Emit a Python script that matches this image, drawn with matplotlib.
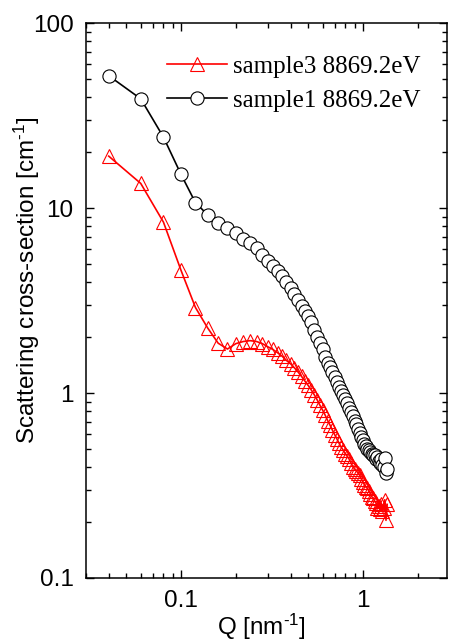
import matplotlib
matplotlib.use("Agg")
import matplotlib.pyplot as plt
from matplotlib.ticker import FixedLocator, LogLocator, NullFormatter, FuncFormatter

plt.rcParams['font.family'] = ['Liberation Sans', 'DejaVu Sans']
plt.rcParams['mathtext.fontset'] = 'custom'
plt.rcParams['mathtext.rm'] = 'Liberation Sans'
plt.rcParams['mathtext.it'] = 'Liberation Sans'

# Q values (nm^-1), same grid for both samples
q = [0.04, 0.06, 0.08, 0.10, 0.12, 0.14, 0.16, 0.18, 0.20, 0.22,
     0.24, 0.26, 0.28, 0.30, 0.32, 0.34, 0.36, 0.38, 0.40, 0.42,
     0.44, 0.46, 0.48, 0.50, 0.52, 0.54, 0.56, 0.58, 0.60, 0.62,
     0.64, 0.66, 0.68, 0.70, 0.72, 0.74, 0.76, 0.78, 0.80, 0.82,
     0.84, 0.86, 0.88, 0.90, 0.92, 0.94, 0.96, 0.98, 1.00, 1.02,
     1.04, 1.06, 1.08, 1.10, 1.12, 1.14, 1.16, 1.18, 1.20, 1.22,
     1.24, 1.26, 1.28, 1.30, 1.32, 1.34, 1.36]

sample3 = [19.1, 13.6, 8.4, 4.6, 2.9, 2.25, 1.86, 1.73, 1.85, 1.90,
           1.92, 1.90, 1.85, 1.78, 1.72, 1.65, 1.58, 1.50, 1.44, 1.37,
           1.30, 1.23, 1.16, 1.10, 1.04, 0.98, 0.92, 0.86, 0.81, 0.76,
           0.71, 0.67, 0.63, 0.595, 0.565, 0.535, 0.51, 0.49, 0.47, 0.455,
           0.44, 0.42, 0.40, 0.39, 0.38, 0.37, 0.36, 0.345, 0.33, 0.32,
           0.31, 0.305, 0.295, 0.285, 0.275, 0.27, 0.26, 0.255, 0.24, 0.245,
           0.235, 0.25, 0.23, 0.24, 0.265, 0.205, 0.25]

sample1 = [52.0, 39.0, 24.2, 15.2, 10.7, 9.2, 8.3, 7.8, 7.3, 6.85,
           6.45, 6.05, 5.6, 5.15, 4.85, 4.55, 4.3, 4.0, 3.7, 3.42,
           3.17, 2.95, 2.78, 2.62, 2.42, 2.2, 2.0, 1.86, 1.72, 1.57,
           1.46, 1.38, 1.30, 1.22, 1.15, 1.08, 1.03, 0.98, 0.93, 0.88,
           0.83, 0.79, 0.75, 0.71, 0.68, 0.64, 0.61, 0.58, 0.56, 0.53,
           0.52, 0.50, 0.49, 0.48, 0.47, 0.465, 0.46, 0.44, 0.45, 0.43,
           0.42, 0.44, 0.41, 0.40, 0.445, 0.37, 0.39]

labels = ["sample3 8869.2eV", "sample1 8869.2eV"]

fig = plt.figure(figsize=(4.51, 6.44), dpi=100)
ax = fig.add_axes([0.1907, 0.1025, 0.8003, 0.8615])

ax.plot(q, sample3, color='red', lw=1.2, marker='^', ms=10,
        mfc='none', mec='red', mew=0.8, label=labels[0])
ax.plot(q, sample1, color='black', lw=1.2, marker='o', ms=9.5,
        mfc='white', mec='black', mew=0.8, label=labels[1])

ax.set_xscale('log')
ax.set_yscale('log')
ax.set_xlim(0.03, 2.9)
ax.set_ylim(0.1, 100)

fmt = FuncFormatter(lambda v, p: ('%g' % v))
ax.xaxis.set_major_locator(FixedLocator([0.1, 1]))
ax.xaxis.set_major_formatter(fmt)
ax.xaxis.set_minor_locator(LogLocator(base=10, subs=range(2, 10)))
ax.xaxis.set_minor_formatter(NullFormatter())
ax.yaxis.set_major_locator(FixedLocator([0.1, 1, 10, 100]))
ax.yaxis.set_major_formatter(fmt)
ax.yaxis.set_minor_locator(LogLocator(base=10, subs=range(2, 10)))
ax.yaxis.set_minor_formatter(NullFormatter())

ax.tick_params(which='both', direction='in', top=True, right=True, width=1)
ax.tick_params(which='major', length=6, labelsize=17.5, pad=9)
ax.tick_params(which='minor', length=3.5)
for s in ax.spines.values():
    s.set_linewidth(1.1)

ax.set_xlabel('Q [nm$^{\u2010 1}$]', fontsize=17.5)
ax.set_ylabel('Scattering cross-section [cm$^{\u2010 1}$]', fontsize=17.5)
ax.xaxis.set_label_coords(0.485, -0.061)
ax.yaxis.set_label_coords(-0.122, 0.537)

leg = ax.legend(loc='upper left', frameon=False, handlelength=2.4,
                prop={'family': 'Liberation Serif', 'size': 18},
                borderpad=0, borderaxespad=0, labelspacing=0.45,
                handletextpad=0.25, bbox_to_anchor=(0.224, 0.942))

fig.savefig('out.png', dpi=100)
